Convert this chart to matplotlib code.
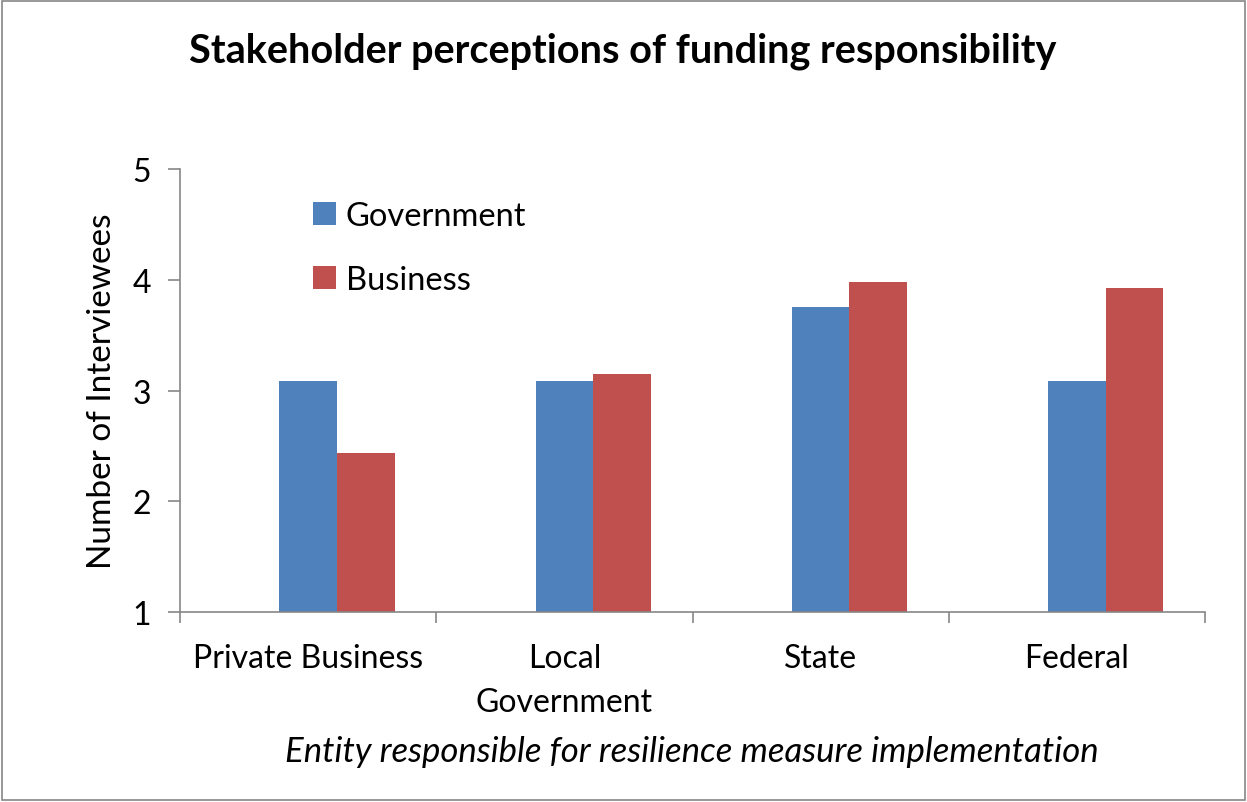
import numpy as np
import matplotlib
matplotlib.use('Agg')
import matplotlib.pyplot as plt
from matplotlib.patches import Rectangle

# Values
categories = ['Private Business', 'Local\nGovernment', 'State', 'Federal']
government = [3.09, 3.09, 3.75, 3.09]
business = [2.44, 3.15, 3.98, 3.93]
series_names = ['Government', 'Business']

plt.rcParams['font.family'] = ['Lato', 'DejaVu Sans']

fig = plt.figure(figsize=(12.47, 8.03), dpi=100)
ax = fig.add_axes([180/1247, 1 - 613/803, 1025/1247, 443/803])

x = np.arange(len(categories))
w = 0.225
base = 1
ax.bar(x, np.array(government) - base, w, bottom=base, color='#4F81BD', label=series_names[0])
ax.bar(x + w, np.array(business) - base, w, bottom=base, color='#C0504D', label=series_names[1])

ax.set_xlim(-0.5, len(categories) - 0.5)
ax.set_ylim(1, 5)
ax.set_yticks([1, 2, 3, 4, 5])
ax.set_xticks(x)
ax.set_xticklabels(categories, fontsize=23, linespacing=1.6)
ax.set_xticks(np.arange(len(categories) + 1) - 0.5, minor=True)
ax.tick_params(axis='x', which='major', length=0, pad=22)
ax.tick_params(axis='x', which='minor', length=8, color='#868686', width=1.2, direction='out')
ax.tick_params(axis='y', length=9, color='#868686', width=1.2, labelsize=23, pad=12)

for s in ['top', 'right']:
    ax.spines[s].set_visible(False)
for s in ['left', 'bottom']:
    ax.spines[s].set_color('#868686')
    ax.spines[s].set_linewidth(1.2)

ax.set_ylabel('Number of Interviewees', fontsize=24, labelpad=11)
fig.text(692/1247, 1 - 752/803, 'Entity responsible for resilience measure implementation',
         fontsize=25, style='italic', ha='center', va='center')
fig.text(623/1247, 1 - 51/803, 'Stakeholder perceptions of funding responsibility',
         fontsize=28.5, weight='bold', ha='center', va='center')

ax.legend(loc='upper left', bbox_to_anchor=(0.101, 0.995), frameon=False, fontsize=23.5,
          handlelength=0.7, handleheight=0.7, handletextpad=0.3, labelspacing=1.05)

fig.patches.append(Rectangle((0.002, 0.002), 0.996, 0.996, transform=fig.transFigure,
                             fill=False, edgecolor='#868686', linewidth=1.2))

fig.savefig('out.png', dpi=100)
